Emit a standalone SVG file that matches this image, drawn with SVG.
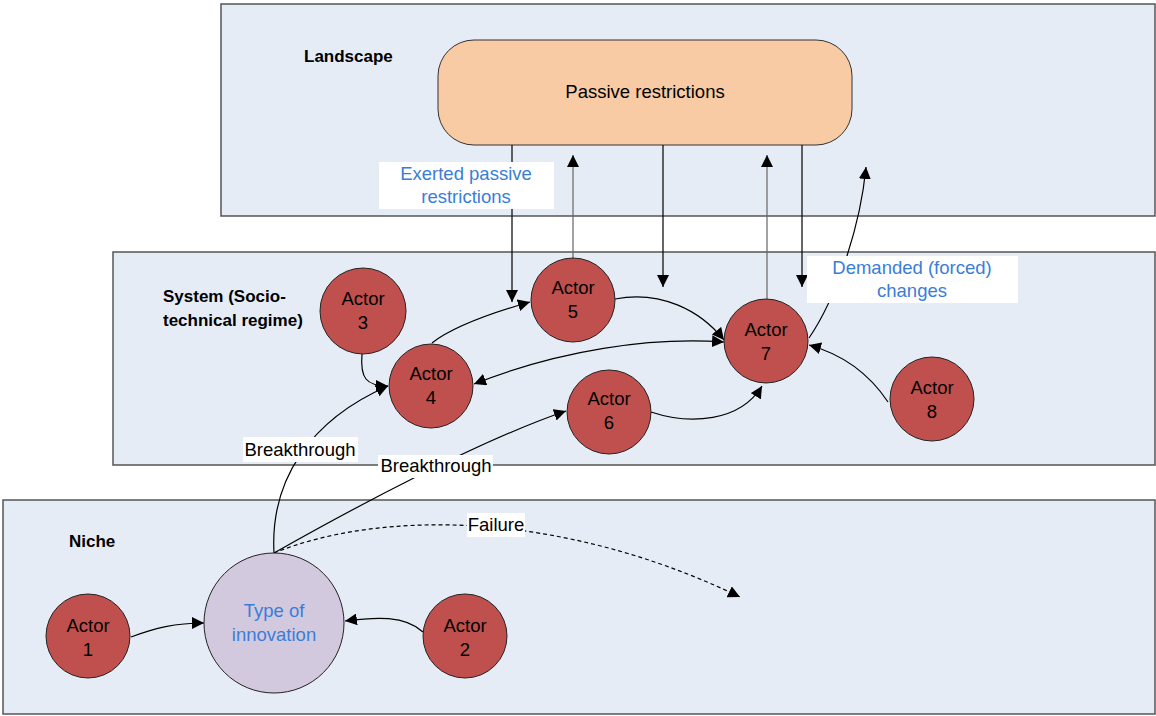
<svg xmlns="http://www.w3.org/2000/svg" width="1156" height="716" viewBox="0 0 1156 716">
<defs>
<marker id="ah" viewBox="0 0 10 10" refX="10" refY="5" markerWidth="12" markerHeight="12" markerUnits="userSpaceOnUse" orient="auto-start-reverse">
<path d="M0,0 L10,5 L0,10 z" fill="#000"/>
</marker>
<style>
.layer{fill:#e6ecf6;stroke:#555;stroke-width:1.5}
.actor{fill:#c0504d;stroke:#222;stroke-width:1}
.t{font-family:"Liberation Sans",Arial,sans-serif;font-size:18.5px;fill:#000;text-anchor:middle}
.b{font-family:"Liberation Sans",Arial,sans-serif;font-size:17px;font-weight:bold;fill:#000}
.blue{fill:#3a7dd8}
.c{fill:none;stroke:#000;stroke-width:1.2}
.g{stroke:#666}
.lbl{fill:#fff}
</style>
</defs>
<rect width="1156" height="716" fill="#fff"/>
<g id="landscape">
<rect class="layer" x="221" y="4" width="934" height="212"/>
<text class="b" x="304" y="62">Landscape</text>
</g>
<g id="system">
<rect class="layer" x="113" y="252" width="1042" height="213"/>
<text class="b" x="163" y="302">System (Socio-</text>
<text class="b" x="163" y="326">technical regime)</text>
</g>
<g id="niche">
<rect class="layer" x="3" y="500" width="1152" height="214"/>
<text class="b" x="69" y="547">Niche</text>
</g>
<g id="passive-restrictions">
<rect x="438" y="40" width="414" height="105" rx="36" fill="#f8cba5" stroke="#333" stroke-width="1"/>
<text class="t" x="645" y="98">Passive restrictions</text>
</g>
<g id="connectors">
<path class="c" d="M512,145 V302" marker-end="url(#ah)"/>
<path class="c g" d="M573,258 V155" marker-end="url(#ah)"/>
<path class="c" d="M663,145 V287" marker-end="url(#ah)"/>
<path class="c g" d="M767,299 V155" marker-end="url(#ah)"/>
<path class="c" d="M802,145 V287" marker-end="url(#ah)"/>
<path class="c" d="M809,338 C835,300 860,230 866,167" marker-end="url(#ah)"/>
<path class="c" d="M362,354 C360,378 366,386 388,386" marker-end="url(#ah)"/>
<path class="c" d="M432,343 C455,325 495,312 530,302" marker-end="url(#ah)"/>
<path class="c" d="M615,299 C660,290 700,310 724,340" marker-end="url(#ah)"/>
<path class="c" d="M474,384 C560,350 650,337 724,342" marker-start="url(#ah)" marker-end="url(#ah)"/>
<path class="c" d="M651,412 C690,425 740,422 762,386" marker-end="url(#ah)"/>
<path class="c" d="M888,402 C870,375 845,355 809,345" marker-end="url(#ah)"/>
<path class="c" d="M131,637 C155,628 175,623 204,623" marker-end="url(#ah)"/>
<path class="c" d="M423,632 C405,615 375,617 345,621" marker-end="url(#ah)"/>
<path class="c" d="M274,553 C270,480 310,420 388,386" marker-end="url(#ah)"/>
<path class="c" d="M274,553 C350,510 480,440 566,411" marker-end="url(#ah)"/>
<path class="c" d="M274,553 C380,510 560,510 740,597" stroke-dasharray="4,3" marker-end="url(#ah)"/>
<rect class="lbl" x="379" y="162" width="175" height="47"/>
<text class="t blue" x="466" y="180">Exerted passive</text>
<text class="t blue" x="466" y="203">restrictions</text>
<rect class="lbl" x="807" y="256" width="211" height="47"/>
<text class="t blue" x="912" y="274">Demanded (forced)</text>
<text class="t blue" x="912" y="297">changes</text>
<rect class="lbl" x="243" y="437" width="115" height="25"/>
<text class="t" x="300" y="456">Breakthrough</text>
<rect class="lbl" x="378" y="455" width="115" height="23"/>
<text class="t" x="436" y="472">Breakthrough</text>
<rect class="lbl" x="467" y="513" width="58" height="24"/>
<text class="t" x="496" y="531">Failure</text>
</g>
<g id="actor3"><circle class="actor" cx="363" cy="311" r="43"/><text class="t" x="363" y="305">Actor</text><text class="t" x="363" y="329">3</text></g>
<g id="actor4"><circle class="actor" cx="431" cy="386" r="42"/><text class="t" x="431" y="380">Actor</text><text class="t" x="431" y="404">4</text></g>
<g id="actor5"><circle class="actor" cx="573" cy="300" r="42"/><text class="t" x="573" y="294">Actor</text><text class="t" x="573" y="318">5</text></g>
<g id="actor6"><circle class="actor" cx="609" cy="412" r="42"/><text class="t" x="609" y="405">Actor</text><text class="t" x="609" y="429">6</text></g>
<g id="actor7"><circle class="actor" cx="766" cy="341" r="42"/><text class="t" x="766" y="336">Actor</text><text class="t" x="766" y="360">7</text></g>
<g id="actor8"><circle class="actor" cx="932" cy="399" r="42"/><text class="t" x="932" y="394">Actor</text><text class="t" x="932" y="418">8</text></g>
<g id="actor1"><circle class="actor" cx="88" cy="636" r="42"/><text class="t" x="88" y="632">Actor</text><text class="t" x="88" y="656">1</text></g>
<g id="actor2"><circle class="actor" cx="465" cy="636" r="42"/><text class="t" x="465" y="632">Actor</text><text class="t" x="465" y="656">2</text></g>
<g id="innovation"><circle cx="274" cy="623" r="70" fill="#d2c9de" stroke="#222" stroke-width="1"/><text class="t blue" x="274" y="617">Type of</text><text class="t blue" x="274" y="641">innovation</text></g>
</svg>
